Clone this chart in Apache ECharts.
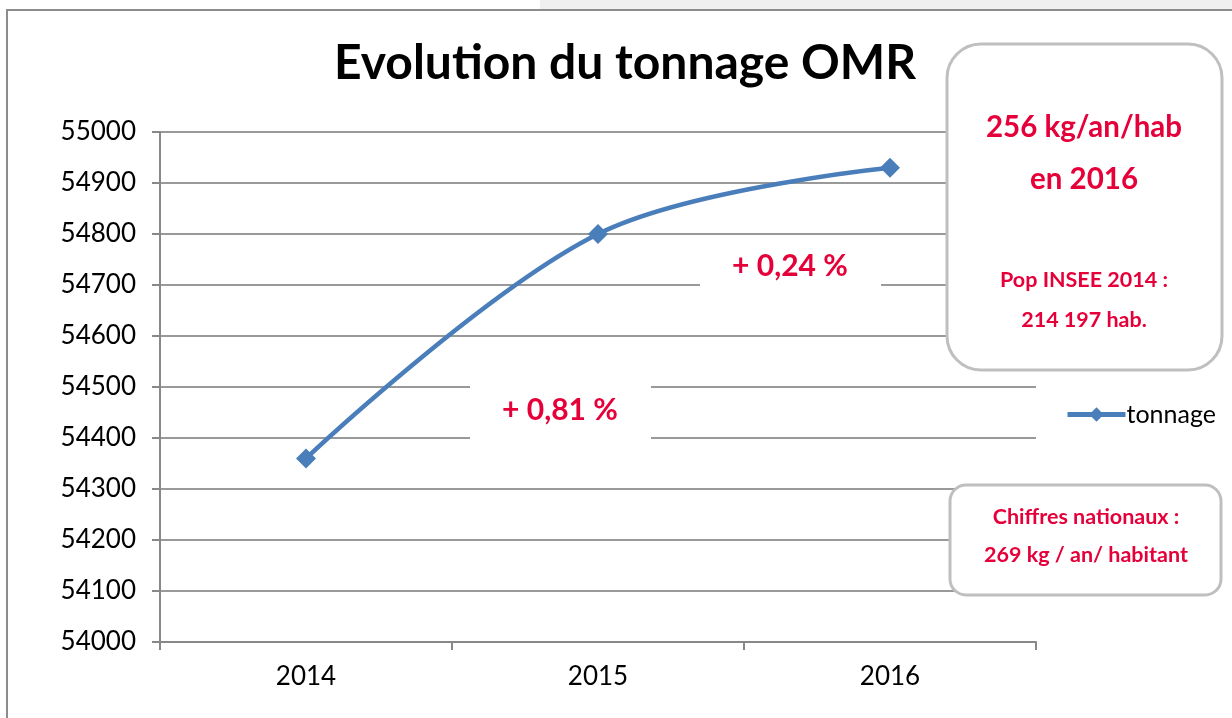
<!DOCTYPE html>
<html>
<head>
<meta charset="utf-8">
<script src="https://cdn.jsdelivr.net/npm/echarts@6/dist/echarts.min.js"></script>
<style>
  html, body { margin: 0; padding: 0; background: #fff; }
  #chart { width: 1232px; height: 718px; }
</style>
</head>
<body>
<div id="chart"></div>
<script>
const years = ['2014', '2015', '2016']
const tonnage = [54360, 54800, 54930]
const yTicks = { min: 54000, max: 55000, step: 100 }

const red = '#e5003a'
const font = 'Lato, "Noto Sans", sans-serif'

const chart = echarts.init(document.getElementById('chart'))
chart.setOption({
    animation: false,
    backgroundColor: '#fff',
    title: {
        text: 'Evolution du tonnage OMR',
        left: 620,
        top: 35,
        textAlign: 'center',
        textStyle: { fontFamily: font, fontWeight: 'bold', fontSize: 48, color: '#000' }
    },
    grid: { left: 160, right: 196, top: 132, bottom: 76 },
    legend: {
        data: ['tonnage'],
        left: 1060,
        top: 397,
        itemWidth: 58,
        itemHeight: 18,
        itemGap: 4,
        lineStyle: { width: 5 },
        textStyle: { fontFamily: font, fontSize: 25, color: '#000', padding: [0, 0, 0, -4] }
    },
    xAxis: {
        type: 'category',
        data: years,
        boundaryGap: true,
        axisLine: { lineStyle: { color: '#888', width: 2 } },
        axisTick: { show: true, length: 8, lineStyle: { color: '#888', width: 2 } },
        axisLabel: { fontFamily: font, fontSize: 26, color: '#000', margin: 22 }
    },
    yAxis: {
        type: 'value',
        min: yTicks.min,
        max: yTicks.max,
        interval: yTicks.step,
        axisLine: { show: true, lineStyle: { color: '#888', width: 2 } },
        axisTick: { show: true, length: 8, lineStyle: { color: '#888', width: 2 } },
        axisLabel: { fontFamily: font, fontSize: 26, color: '#000', margin: 24, formatter: v => String(v) },
        splitLine: { lineStyle: { color: '#999', width: 2 } }
    },
    series: [{
        name: 'tonnage',
        type: 'line',
        data: tonnage,
        smooth: 0.35,
        symbol: 'diamond',
        symbolSize: 20,
        lineStyle: { color: '#4a7ebb', width: 4.5 },
        itemStyle: { color: '#4a7ebb' },
        z: 3
    }],
    graphic: [
        // light decoration strip above the frame
        { type: 'rect', shape: { x: 540, y: 0, width: 692, height: 10 }, style: { fill: '#f0f0f0' }, silent: true },
        // outer frame
        { type: 'rect', shape: { x: 7, y: 10, width: 1240, height: 720 }, style: { fill: 'none', stroke: '#8c8c8c', lineWidth: 2 }, silent: true },
        // percentage labels
        { type: 'rect', shape: { x: 700, y: 240, width: 181, height: 50 }, style: { fill: '#fff' }, z: 10 },
        { type: 'text', x: 790, y: 266, z: 11, style: { text: '+ 0,24 %', fill: red, font: 'bold 30px ' + font, align: 'center', verticalAlign: 'middle' } },
        { type: 'rect', shape: { x: 470, y: 384, width: 181, height: 58 }, style: { fill: '#fff' }, z: 10 },
        { type: 'text', x: 560, y: 410, z: 11, style: { text: '+ 0,81 %', fill: red, font: 'bold 30px ' + font, align: 'center', verticalAlign: 'middle' } },
        // big info box
        { type: 'rect', shape: { x: 947, y: 44, width: 275, height: 326, r: 34 }, style: { fill: '#fff', stroke: '#bfbfbf', lineWidth: 3 }, z: 10 },
        { type: 'text', x: 1084, y: 127, z: 11, style: { text: '256 kg/an/hab', fill: red, font: 'bold 29.5px ' + font, align: 'center', verticalAlign: 'middle' } },
        { type: 'text', x: 1084, y: 179, z: 11, style: { text: 'en 2016', fill: red, font: 'bold 29.5px ' + font, align: 'center', verticalAlign: 'middle' } },
        { type: 'text', x: 1084, y: 280, z: 11, style: { text: 'Pop INSEE 2014 :', fill: red, font: 'bold 21.5px ' + font, align: 'center', verticalAlign: 'middle' } },
        { type: 'text', x: 1084, y: 320, z: 11, style: { text: '214 197 hab.', fill: red, font: 'bold 21.5px ' + font, align: 'center', verticalAlign: 'middle' } },
        // small info box
        { type: 'rect', shape: { x: 950, y: 485, width: 271, height: 110, r: 16 }, style: { fill: '#fff', stroke: '#bfbfbf', lineWidth: 3 }, z: 10 },
        { type: 'text', x: 1086, y: 517, z: 11, style: { text: 'Chiffres nationaux :', fill: red, font: 'bold 21.5px ' + font, align: 'center', verticalAlign: 'middle' } },
        { type: 'text', x: 1086, y: 555, z: 11, style: { text: '269 kg / an/ habitant', fill: red, font: 'bold 21.5px ' + font, align: 'center', verticalAlign: 'middle' } }
    ]
})
</script>
</body>
</html>
